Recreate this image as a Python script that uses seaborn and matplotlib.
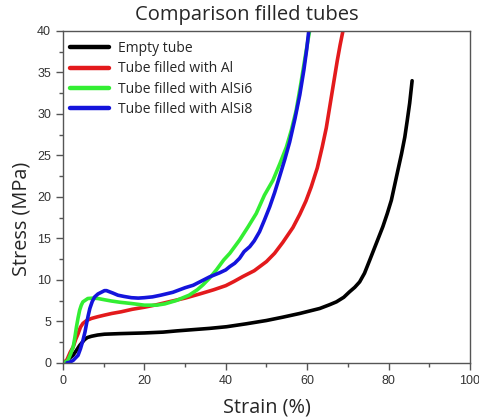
import numpy as np
import pandas as pd
import matplotlib
matplotlib.use("Agg")
import matplotlib.pyplot as plt
import seaborn as sns
from matplotlib.ticker import MultipleLocator

# ---- data ----
empty_strain = [0.4, 1.5, 2.5, 3.3, 4.1, 5.3, 6.0, 7.0, 8.5, 10.2, 14, 20, 24.6, 28, 32, 36, 40.2, 45,
                50, 54, 58.2, 63.1, 65.5, 67.2, 69.0, 70.4, 71.7, 72.9, 74.1, 75.4, 76.2, 77.0, 78.6,
                79.7, 80.7, 81.5, 82.3, 83.2, 84.0, 84.6, 85.2, 85.8]
empty_stress = [0, 0.5, 0.93, 1.5, 2.1, 2.8, 3.05, 3.2, 3.35, 3.45, 3.52, 3.6, 3.7, 3.85, 4.0, 4.15,
                4.35, 4.7, 5.1, 5.5, 5.95, 6.55, 7.0, 7.35, 7.9, 8.55, 9.1, 9.75, 10.8, 12.4, 13.4,
                14.4, 16.4, 18.0, 19.6, 21.4, 23.2, 25.2, 27.2, 29.2, 31.3, 34.0]

al_strain = [0.2, 1.0, 1.8, 2.5, 3.1, 3.7, 4.3, 4.9, 5.8, 7.0, 8.5, 10.2, 12, 14.3, 17, 20, 23, 26, 30,
             33.6, 37, 40, 42, 44.2, 47, 50, 52, 54, 56.5, 58.2, 59.7, 61.0, 62.5, 63.7, 64.7, 65.6,
             66.5, 67.4, 68.1, 68.8]
al_stress = [0, 0.4, 1.3, 1.9, 2.8, 3.5, 4.3, 4.75, 5.1, 5.35, 5.55, 5.75, 5.95, 6.15, 6.45, 6.7, 7.0,
             7.35, 7.8, 8.3, 8.8, 9.3, 9.8, 10.4, 11.1, 12.2, 13.2, 14.5, 16.3, 17.9, 19.5, 21.2,
             23.5, 26.0, 28.3, 31.0, 33.7, 36.4, 38.3, 40.0]

alsi6_strain = [0, 0.6, 1.2, 1.9, 2.5, 2.9, 3.3, 3.7, 4.1, 4.5, 4.9, 6.1, 7.4, 8.6, 10.2, 11.9, 14,
                16.8, 20, 23, 25, 27.8, 29.5, 31, 33, 34.4, 36, 37.7, 39.5, 41, 42.2, 43.4, 45.5, 47.5,
                49.5, 51.6, 53.3, 54.9, 56.1, 57.3, 58.4, 59.4, 60.0, 60.6]
alsi6_stress = [0, 0.1, 0.3, 1.1, 1.9, 3.0, 4.3, 5.4, 6.35, 6.95, 7.35, 7.75, 7.8, 7.75, 7.6, 7.45,
                7.3, 7.15, 6.95, 6.95, 7.1, 7.5, 7.85, 8.15, 8.8, 9.4, 10.2, 11.2, 12.4, 13.2, 14.0,
                14.8, 16.4, 18.0, 20.2, 22.0, 24.0, 26.0, 28.0, 30.4, 33.5, 36.5, 38.3, 40.0]

alsi8_strain = [1.0, 1.6, 2.5, 3.7, 4.3, 4.9, 5.4, 5.8, 6.2, 6.6, 7.2, 7.8, 8.6, 9.4, 10.2, 10.7, 11.5,
                12.3, 13.5, 15, 16.8, 18.5, 20, 22, 24, 27, 30, 32, 33.6, 36, 38.5, 40, 41, 42.2, 43.4,
                44.5, 45.9, 47, 48.3, 49.5, 50.8, 52, 53.2, 54.5, 55.7, 57, 58.2, 59.2, 59.9, 60.4]
alsi8_stress = [0, 0.05, 0.3, 0.9, 1.7, 2.7, 3.7, 4.75, 5.7, 6.55, 7.4, 7.95, 8.3, 8.5, 8.7, 8.7, 8.55,
                8.4, 8.15, 8.0, 7.85, 7.8, 7.85, 7.95, 8.15, 8.5, 9.05, 9.35, 9.75, 10.35, 10.85, 11.2,
                11.6, 12.0, 12.6, 13.4, 14.0, 14.7, 15.8, 17.2, 18.8, 20.5, 22.4, 24.5, 26.6, 29.4,
                32.3, 35.3, 37.8, 40.0]

labels = ["Empty tube", "Tube filled with Al", "Tube filled with AlSi6", "Tube filled with AlSi8"]
colors = ["#000000", "#e31a1c", "#33ee33", "#1414dc"]

x_ticks = [0, 20, 40, 60, 80, 100]
y_ticks = [0, 5, 10, 15, 20, 25, 30, 35, 40]

frames = []
for lab, xs, ys in zip(labels,
                       [empty_strain, al_strain, alsi6_strain, alsi8_strain],
                       [empty_stress, al_stress, alsi6_stress, alsi8_stress]):
    frames.append(pd.DataFrame({"Strain": xs, "Stress": ys, "Sample": lab}))
df = pd.concat(frames, ignore_index=True)

sns.set_theme(style="ticks")
plt.rcParams["font.family"] = ["Liberation Sans", "DejaVu Sans"]

fig = plt.figure(figsize=(4.79, 4.18), dpi=100)
ax = fig.add_axes([0.1315, 0.132, 0.8495, 0.794])

sns.lineplot(data=df, x="Strain", y="Stress", hue="Sample", hue_order=labels,
             palette=dict(zip(labels, colors)), sort=False, estimator=None,
             linewidth=2.6, ax=ax, legend=True)
for ln in ax.lines:
    ln.set_solid_joinstyle("round")
    ln.set_solid_capstyle("round")

ax.set_xlim(0, 100)
ax.set_ylim(0, 40)
ax.set_xticks(x_ticks)
ax.set_yticks(y_ticks)
ax.xaxis.set_minor_locator(MultipleLocator(10))
ax.yaxis.set_minor_locator(MultipleLocator(2.5))

spine_c = "#555555"
for s in ax.spines.values():
    s.set_visible(True)
    s.set_color(spine_c)
    s.set_linewidth(1.0)
ax.tick_params(which="major", direction="out", length=5, width=1, color=spine_c,
               labelsize=9, labelcolor="#333333")
ax.tick_params(which="minor", direction="out", length=3, width=1, color=spine_c)
ax.tick_params(top=False, right=False)

ax.set_xlabel("Strain (%)", fontsize=14.3, family="Open Sans", labelpad=8)
ax.set_ylabel("Stress (MPa)", fontsize=14.3, family="Open Sans")
ax.yaxis.set_label_coords(-0.078, 0.435)
fig.text(0.515, 0.965, "Comparison filled tubes", ha="center", va="center",
         fontsize=14.5, family="Open Sans")

leg = ax.legend(loc="upper left", bbox_to_anchor=(0.0, 0.99), frameon=False,
                prop={"family": "Open Sans", "size": 10},
                handlelength=2.8, handletextpad=0.65, labelspacing=0.38,
                borderaxespad=0.3, borderpad=0.2)
for h in leg.get_lines():
    h.set_linewidth(3.2)

fig.savefig("out.png", dpi=100)
